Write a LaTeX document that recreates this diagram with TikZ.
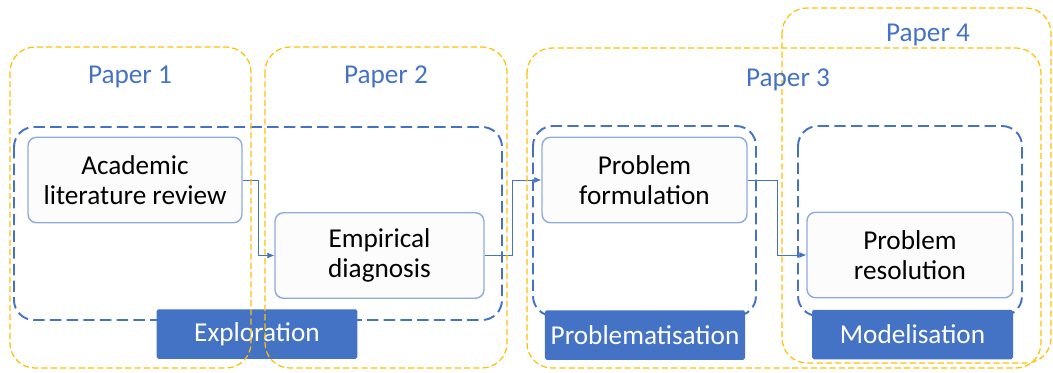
\documentclass[tikz,border=0pt]{standalone}
\usepackage{fontspec}
\setmainfont{Carlito}
\usetikzlibrary{arrows.meta,positioning}
\definecolor{accent}{HTML}{4472C4}
\definecolor{paperyellow}{HTML}{FFC000}
\definecolor{boxline}{HTML}{8FAADC}

\tikzset{
    paperframe/.style = {draw=paperyellow, line width=0.7pt, dash pattern=on 3.5pt off 1.8pt, rounded corners=0.5cm},
    phaseframe/.style = {draw=accent, line width=1.1pt, dash pattern=on 6.5pt off 3pt, rounded corners=0.4cm},
    stepbox/.style = {draw=boxline, line width=0.8pt, fill=white!99!black, rounded corners=0.17cm,
        minimum width=4.1cm, minimum height=1.71cm, align=center, text=black},
    phaselabel/.style = {fill=accent, rounded corners=1pt, text=white, minimum width=4.02cm, minimum height=0.99cm},
    papertitle/.style = {text=accent},
    flow/.style = {draw=accent, line width=0.5pt, -{Latex[length=4pt,width=3.5pt]}}
}

\begin{document}
\begin{tikzpicture}[x=0.02cm, y=-0.02cm, font=\fontsize{15.5}{17}\selectfont]
    \useasboundingbox (0,0) rectangle (1053,372);

    % dashed phase groups
    \draw [phaseframe] (14,127) rectangle (502,320);
    \draw [phaseframe] (533,126) rectangle (756,316);
    \draw [phaseframe] (798,126) rectangle (1022,316);

    % steps
    \node [stepbox, minimum width=4.28cm] (lit) at (135,180) {Academic\\literature review};
    \node [stepbox, minimum width=4.18cm] (emp) at (379.5,255.5) {Empirical\\diagnosis};
    \node [stepbox] (form) at (644.5,180) {Problem\\formulation};
    \node [stepbox, minimum width=4.12cm] (reso) at (910,255) {Problem\\resolution};

    \draw [flow] (lit.east) -- ++(16,0) |- (emp.west);
    \draw [flow] (emp.east) -- ++(28,0) |- (form.west);
    \draw [flow] (form.east) -- ++(30,0) |- (reso.west);

    % phase names
    \node [phaselabel] (explo) at (257,334) {Exploration};
    \node [phaselabel, minimum width=4cm] (probl) at (645,335) {Problematisation};
    \node [phaselabel] (model) at (912.5,334.5) {Modelisation};

    % papers
    \draw [paperframe] (10,47) rectangle (251,368);
    \draw [paperframe] (265,47) rectangle (507,368);
    \draw [paperframe] (527,48) rectangle (1041,368);
    \draw [paperframe] (782,8) rectangle (1051,363);
    \node [papertitle] (p1) at (130,77) {Paper 1};
    \node [papertitle] (p2) at (386,77) {Paper 2};
    \node [papertitle] (p3) at (788,80) {Paper 3};
    \node [papertitle] (p4) at (928,35) {Paper 4};
\end{tikzpicture}
\end{document}
